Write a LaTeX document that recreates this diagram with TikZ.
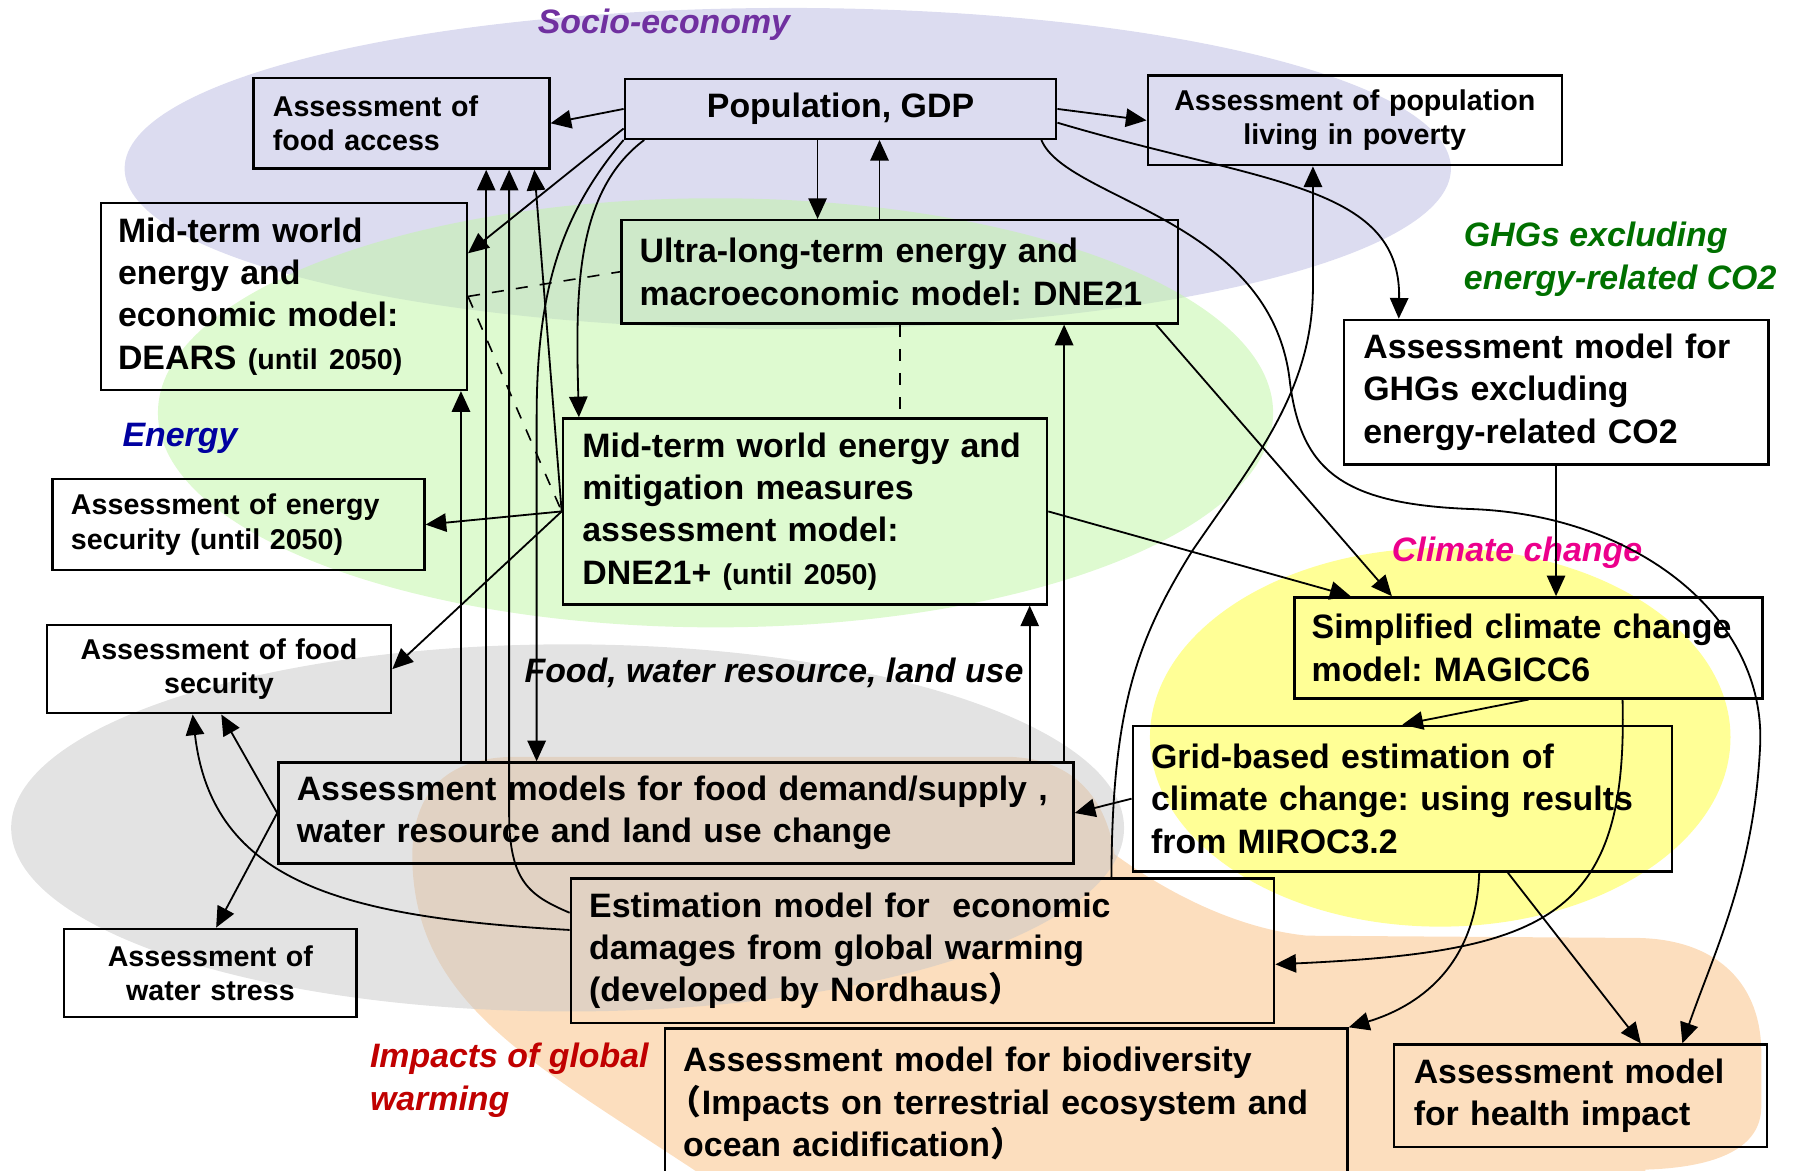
\documentclass[tikz,border=0pt]{standalone}
\usepackage{fontspec}
\setmainfont{Liberation Sans}
\newfontfamily\cjkfont{Noto Sans CJK JP}
\usetikzlibrary{arrows.meta,calc,positioning}
\definecolor{socio}{RGB}{220,220,240}
\definecolor{energybg}{RGB}{195,245,170}
\definecolor{impact}{RGB}{252,222,190}
\definecolor{foodbg}{RGB}{200,200,200}
\definecolor{climate}{RGB}{255,255,150}
\definecolor{purplelab}{RGB}{112,48,160}
\definecolor{bluelab}{RGB}{0,0,160}
\definecolor{greenlab}{RGB}{0,112,0}
\definecolor{redlab}{RGB}{192,0,0}
\frenchspacing
\newcommand{\bigtxt}{\fontsize{8.4}{10.5}\selectfont\bfseries}
\newcommand{\smalltxt}{\fontsize{7.1}{8.5}\selectfont\bfseries}
\newcommand{\subtxt}[1]{{\fontsize{7.1}{8.5}\selectfont #1}}
\newcommand{\fwp}[1]{{\cjkfont\bfseries #1}}
\tikzstyle{box}=[draw, line width=0.6pt, rectangle, inner xsep=0pt, inner ysep=0pt, align=left, font=\bigtxt]
\tikzstyle{sbox}=[box, align=center, font=\smalltxt]
\tikzstyle{arr}=[-{Triangle[length=0.18cm,width=0.16cm]}, line width=0.45pt]
\tikzstyle{lab}=[font=\bigtxt\itshape, inner sep=0pt, align=left]

\begin{document}
\begin{tikzpicture}[x=0.01cm,y=-0.01cm]
\useasboundingbox (0,0) rectangle (1568,1021);
\fill[socio] (687,147) ellipse [x radius=5.78cm, y radius=1.4cm];
\fill[energybg, opacity=0.55] (624,360) ellipse [x radius=4.86cm, y radius=1.87cm];
\fill[impact] (620,1030) .. controls (470,930) and (368,880) .. (360,760)
	.. controls (355,690) and (390,660) .. (450,660) -- (880,660)
	.. controls (940,662) and (965,700) .. (972,745)
	.. controls (1020,780) and (1080,810) .. (1140,816) -- (1430,818)
	.. controls (1500,820) and (1536,860) .. (1536,918) -- (1536,965)
	.. controls (1536,1000) and (1500,1018) .. (1435,1020) -- (1435,1030) -- cycle;
\fill[foodbg, opacity=0.5] (495,722) ellipse [x radius=4.85cm, y radius=1.6cm];
\fill[climate] (1256,643) ellipse [x radius=2.53cm, y radius=1.65cm];

\node[lab, text=purplelab] (socio) at (579,22) {Socio-economy};
\node[lab, text=bluelab] (energy) at (157,382) {Energy};
\node[lab, text=greenlab, anchor=west] (ghglab) at (1276,226) {GHGs excluding\\energy-related CO2};
\node[lab, text=magenta] (climlab) at (1323,482) {Climate change};
\node[lab] (foodlab) at (675,587) {Food, water resource, land use};
\node[lab, text=redlab, anchor=west] (implab) at (322,942) {Impacts of global\\warming};

\node[sbox, align=left, minimum width=2.58cm, minimum height=0.79cm, text width=2.24cm] (foodacc) at (350,107.5) {Assessment of\\food access};
\node[box, minimum width=3.76cm, minimum height=0.52cm] (pop) at (733,95) {Population, GDP};
\node[sbox, minimum width=3.61cm, minimum height=0.78cm, text width=3.4cm] (poverty) at (1181.5,105) {Assessment of population\\living in poverty};
\node[box, minimum width=3.19cm, minimum height=1.63cm, text width=2.89cm] (dears) at (247.5,258.5) {Mid-term world\\energy and\\economic model:\\DEARS \subtxt{(until 2050)}};
\node[box, minimum width=4.85cm, minimum height=0.9cm, text width=4.53cm] (dne21) at (784.5,237) {Ultra-long-term energy and\\macroeconomic model: DNE21};
\node[box, minimum width=3.7cm, minimum height=1.26cm, text width=3.36cm] (ghgmodel) at (1357,342) {Assessment model for\\GHGs excluding\\energy-related CO2};
\node[box, minimum width=4.22cm, minimum height=1.62cm, text width=3.88cm] (dne21p) at (702,446) {Mid-term world energy and\\mitigation measures\\assessment model:\\DNE21+ \subtxt{(until 2050)}};
\node[sbox, align=left, minimum width=3.24cm, minimum height=0.79cm, text width=2.92cm] (ensec) at (208,457.5) {Assessment of energy\\security (until 2050)};
\node[box, minimum width=4.08cm, minimum height=0.88cm, text width=3.78cm] (magicc) at (1333,565) {Simplified climate change\\model: MAGICC6};
\node[sbox, minimum width=3cm, minimum height=0.77cm, text width=2.8cm] (foodsec) at (191,583.5) {Assessment of food\\security};
\node[box, minimum width=6.93cm, minimum height=0.88cm, text width=6.61cm] (foodmodel) at (589.5,709) {Assessment models for food demand/supply ,\\water resource and land use change};
\node[box, minimum width=4.7cm, minimum height=1.27cm, text width=4.38cm] (grid) at (1223,696.5) {Grid-based estimation of\\climate change: using results\\from MIROC3.2};
\node[box, minimum width=6.13cm, minimum height=1.26cm, text width=5.81cm] (nordhaus) at (804.5,829) {Estimation model for\ \ economic\\damages from global warming\\(developed by Nordhaus\fwp{）}};
\node[sbox, minimum width=2.55cm, minimum height=0.77cm, text width=2.4cm] (waterstr) at (183.5,848.5) {Assessment of\\water stress};
\node[box, minimum width=5.95cm, minimum height=1.31cm, text width=5.63cm] (biodiv) at (877.5,962.5) {Assessment model for biodiversity\\\makebox[0.55em][r]{\fwp{（}}Impacts on terrestrial ecosystem and\\ocean acidification\fwp{）}};
\node[box, minimum width=3.25cm, minimum height=0.89cm, text width=2.91cm] (health) at (1378.5,955.5) {Assessment model\\for health impact};

\foreach \x in {402,424,444,466,468,713,767,785,898,928,1145,1357} {
	\coordinate (v\x) at (\x,0);
}
\draw[arr] (pop.west) -- (foodacc.east);
\draw[arr] (pop.east) -- (poverty.west);
\draw[arr] (pop.south -| v713) -- (dne21.north -| v713);
\draw[arr] (dne21.north -| v767) -- (pop.south -| v767);
\draw[arr] ($(pop.south west)+(0,-10)$) -- ($(dears.north east)+(0,45)$);
\draw[arr] (pop.south west) .. controls +(-55,65) and +(0,-110) .. (v468 |- dne21p.north) -- (foodmodel.north -| v468);
\draw[arr] ($(pop.south west)+(18,0)$) .. controls +(-60,45) and +(-3,-110) .. ($(dne21p.north west)+(15,0)$);
\draw[dashed] (dears.east) -- (dne21.west);
\draw[dashed] (dears.east) -- (dne21p.west);
\draw[dashed] (dne21.south -| v785) -- (dne21p.north -| v785);
\draw[arr] (dne21p.west) -- (ensec.east);
\draw[arr] (dne21p.west) -- (foodsec.east);
\draw[arr] (dne21p.west) -- (foodacc.south -| v466);
\draw[arr] (foodmodel.north -| v402) -- (dears.south -| v402);
\draw[arr] (foodmodel.north -| v424) -- (foodacc.south -| v424);
\draw[arr] ($(nordhaus.west)+(0,-33)$) .. controls +(-35,-15) and +(0,60) .. (v444 |- foodmodel.center) -- (foodacc.south -| v444);
\draw[arr] (foodmodel.north -| v898) -- (dne21p.south -| v898);
\draw[arr] (foodmodel.north -| v928) -- (dne21.south -| v928);
\draw[arr] ($(dne21.south east)+(-20,0)$) -- ($(magicc.north west)+(86,0)$);
\draw[arr] (dne21p.east) -- ($(magicc.north west)+(50,0)$);
\draw[arr] (ghgmodel.south -| v1357) -- (magicc.north -| v1357);
\draw[arr] ($(pop.east)+(0,12)$) .. controls (1100,160) and (1222,160) .. ($(ghgmodel.north west)+(49,0)$);
\draw[arr] ($(pop.south east)+(-14,0)$) .. controls (930,175) and (1110,190) .. (1125,334)
	.. controls (1135,410) and (1170,440) .. (1285,444)
	.. controls (1430,450) and (1540,540) .. (1535,650)
	.. controls (1530,760) and (1495,830) .. ($(health.north east)+(-75,0)$);
\draw[arr] ($(nordhaus.north east)+(-143,0)$) .. controls (970,620) and (990,560) .. (1040,480)
	.. controls (1095,400) and (1145,340) .. (1145,250) -- (poverty.south -| v1145);
\draw[arr] (magicc.south) -- (grid.north);
\draw[arr] (grid.west) -- (foodmodel.east);
\draw[arr] ($(magicc.south)+(82,0)$) .. controls (1420,800) and (1350,830) .. ($(nordhaus.east)+(0,12)$);
\draw[arr] ($(grid.south)+(67,0)$) .. controls +(-3,90) and +(50,-15) .. (biodiv.north east);
\draw[arr] ($(grid.south)+(92,0)$) -- ($(health.north)+(52.5,0)$);
\draw[arr] (foodmodel.west) -- ($(foodsec.south)+(2,0)$);
\draw[arr] (foodmodel.west) -- ($(waterstr.north)+(5,0)$);
\draw[arr] ($(nordhaus.west)+(0,-18)$) .. controls (300,800) and (185,770) .. ($(foodsec.south)+(-23,0)$);
\end{tikzpicture}
\end{document}
